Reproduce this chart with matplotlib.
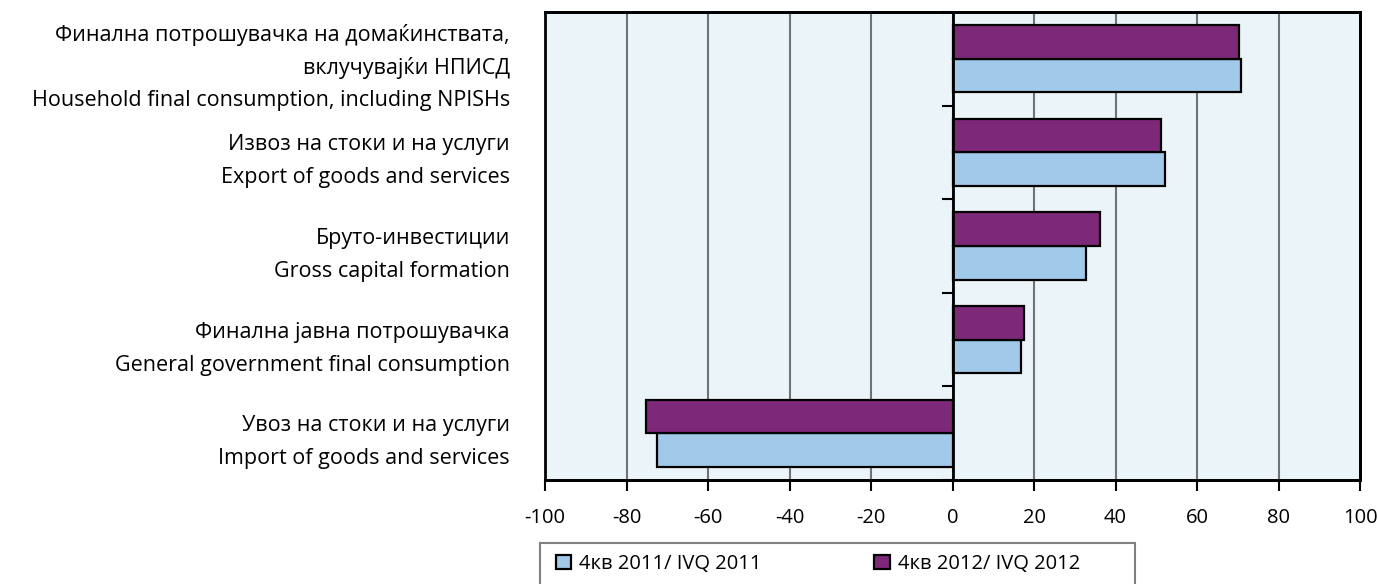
import numpy as np
import matplotlib.pyplot as plt
import matplotlib.transforms as mtransforms
from matplotlib.patches import Rectangle

plt.rcParams['font.family'] = ['Open Sans', 'DejaVu Sans']

categories = [
    ["Финална потрошувачка на домаќинствата,", "вклучувајќи НПИСД",
     "Household final consumption, including NPISHs"],
    ["Извоз на стоки и на услуги", "Export of goods and services"],
    ["Бруто-инвестиции", "Gross capital formation"],
    ["Финална јавна потрошувачка", "General government final consumption"],
    ["Увоз на стоки и на услуги", "Import of goods and services"],
]
q4_2011 = [70.7, 52.1, 32.8, 16.9, -72.5]
q4_2012 = [70.2, 51.1, 36.3, 17.5, -75.3]
series_names = ["4кв 2011/ IVQ 2011", "4кв 2012/ IVQ 2012"]
xticks = [-100, -80, -60, -40, -20, 0, 20, 40, 60, 80, 100]

blue = '#A0C9EA'
purple = '#7E287A'

fig = plt.figure(figsize=(13.78, 5.84), dpi=100)
ax = fig.add_axes([545/1378, 1 - 480/584, 815/1378, 468/584])
ax.set_facecolor('#EBF4F8')

y = np.arange(len(categories))
h = 0.36
b1 = ax.barh(y + h/2, q4_2011, height=h, color=blue, edgecolor='black', linewidth=1.6,
             label=series_names[0], zorder=3)
b2 = ax.barh(y - h/2, q4_2012, height=h, color=purple, edgecolor='black', linewidth=1.6,
             label=series_names[1], zorder=3)

ax.set_xlim(-100, 100)
ax.set_ylim(len(categories) - 0.5, -0.5)
ax.set_xticks(xticks)
ax.set_xticklabels([str(v) for v in xticks], fontsize=14.5)
ax.tick_params(axis='x', direction='out', length=8, width=1.5, pad=12, colors='black')
for v in xticks[1:-1]:
    ax.axvline(v, color='#6E7474', linewidth=1.5, zorder=1)

# y axis sits at zero, ticks at category boundaries
ax.spines['left'].set_position(('data', 0))
ax.spines['left'].set_linewidth(2)
ax.spines['left'].set_zorder(4)
ax.set_yticks(np.arange(len(categories) + 1) - 0.5)
ax.tick_params(axis='y', direction='out', length=8, width=1.5, labelleft=False)
for s in ['top', 'right', 'bottom']:
    ax.spines[s].set_linewidth(2)
ax.add_patch(Rectangle((0, 0), 1, 1, transform=ax.transAxes, fill=False,
                       edgecolor='black', linewidth=2, clip_on=False, zorder=5))

# category labels, one text per line, 33 px apart
for i, lines in enumerate(categories):
    n = len(lines)
    for k, line in enumerate(lines):
        dy = (k - (n - 1) / 2) * 33 + 9
        tr = mtransforms.blended_transform_factory(ax.transAxes, ax.transData) + \
            mtransforms.ScaledTranslation(0, -dy / 100, fig.dpi_scale_trans)
        ax.text(-0.043, i, line, transform=tr, ha='right', va='center', fontsize=15.5)

leg = fig.legend(handles=[b1, b2], labels=series_names, loc='center left',
                 bbox_to_anchor=(548/1378, 1 - 564/584), ncol=2, fontsize=14.5,
                 frameon=False, borderaxespad=0, handlelength=0.75,
                 handleheight=0.75, handletextpad=0.4, columnspacing=5.6)
fig.patches.append(Rectangle((540/1378, -0.05), (1135 - 540)/1378, 0.05 + 1 - 543/584,
                             transform=fig.transFigure, fill=False,
                             edgecolor='#808080', linewidth=1.5))

fig.savefig('out.png', dpi=100)
